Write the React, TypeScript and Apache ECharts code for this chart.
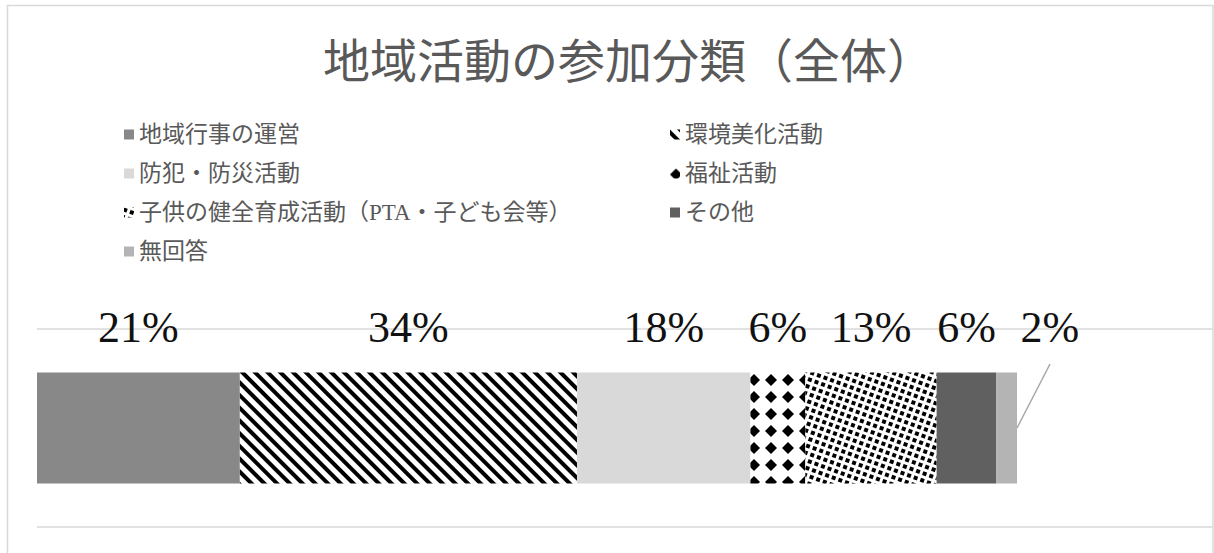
import React, { useEffect, useRef } from "react";
import * as echarts from "echarts";

const categories = ["全体"];
const seriesNames = [
  "地域行事の運営",
  "環境美化活動",
  "防犯・防災活動",
  "福祉活動",
  "子供の健全育成活動（PTA・子ども会等）",
  "その他",
  "無回答",
];
const seriesValues = [0.207, 0.344, 0.177, 0.056, 0.134, 0.061, 0.021];
const legendLeftColumn = [seriesNames[0], seriesNames[2], seriesNames[4], seriesNames[6]];
const legendRightColumn = [seriesNames[1], seriesNames[3], seriesNames[5]];
const titleText = "地域活動の参加分類（全体）";

const serif = '"Liberation Serif", "Noto Sans CJK JP", serif';

const itemStyles: any[] = [
  { color: "#888888" },
  {
    color: "#ffffff",
    decal: { symbol: "rect", color: "#000000", dashArrayX: [1, 0], dashArrayY: [3.5, 5], rotation: Math.PI / 4, symbolSize: 1 },
  },
  { color: "#d9d9d9" },
  {
    color: "#ffffff",
    decal: { symbol: "diamond", color: "#000000", dashArrayX: [12, 5], dashArrayY: [12, 5], symbolSize: 1, rotation: 0 },
  },
  {
    color: "#ffffff",
    decal: { symbol: "rect", color: "#000000", dashArrayX: [3.2, 2.6], dashArrayY: [3.2, 2.6], symbolSize: 1, rotation: 0.35 },
  },
  { color: "#606060" },
  { color: "#b4b4b4" },
];

export default function App() {
  const ref = useRef<HTMLDivElement>(null);
  useEffect(() => {
    if (!ref.current) return;
    const chart = echarts.init(ref.current, null, { renderer: "svg" });
    const series = seriesNames.map((name, i) => {
      const last = i === seriesNames.length - 1;
      const s: any = {
        name,
        type: "bar",
        stack: "total",
        barWidth: 111,
        data: [seriesValues[i]],
        itemStyle: itemStyles[i],
        label: {
          show: true,
          position: "top",
          distance: 23,
          formatter: (p: any) => Math.round(p.value * 100) + "%",
          fontSize: 44,
          fontFamily: serif,
          color: "#111111",
        },
      };
      if (last) {
        s.labelLayout = { dx: 43 };
      }
      return s;
    });
    chart.setOption({
      animation: false,
      backgroundColor: "#ffffff",
      title: {
        text: titleText,
        left: 318,
        top: 33,
        textStyle: { fontSize: 47, fontWeight: "normal", color: "#595959", fontFamily: serif },
      },
      legend: [
        {
          data: legendLeftColumn,
          orient: "vertical",
          left: 119,
          top: 118,
          itemGap: 16,
          itemWidth: 10,
          itemHeight: 10,
          icon: "rect",
          textStyle: { fontSize: 23, color: "#595959", fontFamily: serif },
          selectedMode: false,
        },
        {
          data: legendRightColumn,
          orient: "vertical",
          left: 665,
          top: 118,
          itemGap: 16,
          itemWidth: 10,
          itemHeight: 10,
          icon: "rect",
          textStyle: { fontSize: 23, color: "#595959", fontFamily: serif },
          selectedMode: false,
        },
      ],
      grid: { left: 37, right: 1, top: 329, bottom: 26, containLabel: false },
      xAxis: {
        type: "value",
        min: 0,
        max: 1.2,
        show: false,
      },
      yAxis: {
        type: "category",
        data: categories,
        axisLine: { show: false },
        axisTick: { show: false },
        axisLabel: { show: false },
        splitLine: { show: true, lineStyle: { color: "#d9d9d9", width: 1.5 } },
      },
      graphic: [
        {
          type: "rect",
          shape: { x: 7.5, y: 5.5, width: 1205.5, height: 600 },
          style: { fill: "none", stroke: "#d9d9d9", lineWidth: 1.5 },
          silent: true,
        },
      ],
      series,
    });

    // leader line for the last (small) segment, anchored through the axis scales
    const total = seriesValues.reduce((a, b) => a + b, 0);
    const end = chart.convertToPixel({ gridIndex: 0 }, [total, categories[0]]) as number[];
    if (end && isFinite(end[0])) {
      chart.setOption({
        graphic: [
          {
            type: "rect",
            shape: { x: 7.5, y: 5.5, width: 1205.5, height: 600 },
            style: { fill: "none", stroke: "#d9d9d9", lineWidth: 1.5 },
            silent: true,
          },
          {
            type: "line",
            shape: { x1: end[0], y1: end[1], x2: end[0] + 33, y2: end[1] - 64 },
            style: { stroke: "#a6a6a6", lineWidth: 1.5 },
            silent: true,
          },
        ],
      });
    }
    return () => chart.dispose();
  }, []);
  return (
    <div
      ref={ref}
      style={{ position: "fixed", left: 0, top: 0, width: 1214, height: 553, background: "#fff" }}
    />
  );
}
